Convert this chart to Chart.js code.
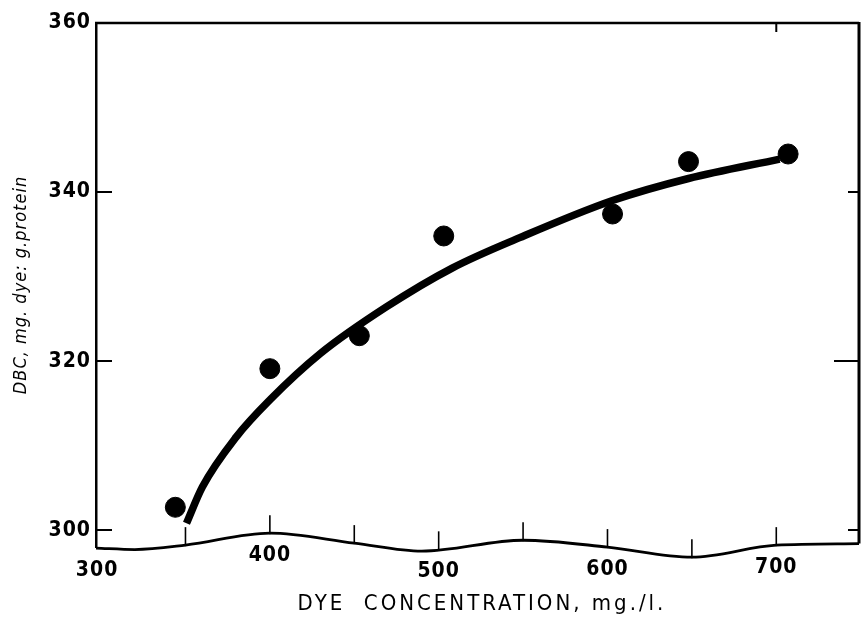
<!DOCTYPE html>
<html>
<head>
<meta charset="utf-8">
<script src="https://cdn.jsdelivr.net/npm/chart.js@4.4.1/dist/chart.umd.min.js"></script>
<style>
  html, body { margin: 0; padding: 0; background: #fff; }
  #wrap { width: 861px; height: 624px; }
</style>
</head>
<body>
<div id="wrap"><canvas id="c" width="861" height="624"></canvas></div>
<script>
// Measured dye binding capacity vs dye concentration
const concentration = [344, 400, 453, 503, 603, 648, 707];
const capacity = [302.7, 319.1, 323.0, 334.8, 337.4, 343.6, 344.5];

// Smooth fitted curve through the measurements
const fitX = [350.6, 360, 380, 400, 430, 469, 508, 548, 603, 648, 702];
const fitY = [300.8, 305.1, 311.0, 315.4, 320.9, 326.4, 331.0, 334.6, 339.0, 341.6, 343.9];

// Wavy broken baseline of the x axis
const breakX = [297, 320, 350, 400, 450, 490, 550, 600, 650, 700, 749];
const breakY = [297.87, 297.7, 298.22, 299.64, 298.46, 297.51, 298.8, 297.99, 296.8, 298.22, 298.4];

// Axis ticks
const yTicks = [300, 320, 340, 360];
const xLabels = [300, 400, 500, 600, 700];
const xMinor = [350, 400, 450, 500, 550, 600, 650, 700];

const tickFont = '"DejaVu Sans Condensed", "DejaVu Sans", sans-serif';

function toPoints(xs, ys) { return xs.map((x, i) => ({ x: x, y: ys[i] })); }

function baselineAt(v) {
  for (let i = 0; i < breakX.length - 1; i++) {
    if (v >= breakX[i] && v <= breakX[i + 1]) {
      const t = (v - breakX[i]) / (breakX[i + 1] - breakX[i]);
      return breakY[i] + t * (breakY[i + 1] - breakY[i]);
    }
  }
  return breakY[breakY.length - 1];
}

// Slightly spaced lettering for all axis text
const spacingPlugin = {
  id: 'spacing',
  beforeDraw(chart) { chart.ctx.letterSpacing = '1px'; },
  afterDraw(chart) { chart.ctx.letterSpacing = '0px'; }
};

// Frame, inward ticks, x labels and x title
const framePlugin = {
  id: 'frame',
  afterDatasetsDraw(chart) {
    const { ctx, chartArea: a, scales: { x, y } } = chart;
    ctx.save();
    ctx.strokeStyle = '#000';
    ctx.fillStyle = '#000';
    ctx.lineCap = 'butt';

    // top and right borders
    ctx.lineWidth = 2.5;
    ctx.beginPath();
    ctx.moveTo(a.left - 1, a.top);
    ctx.lineTo(a.right, a.top);
    ctx.stroke();
    ctx.lineWidth = 3;
    ctx.beginPath();
    ctx.moveTo(a.right, a.top - 1);
    ctx.lineTo(a.right, y.getPixelForValue(baselineAt(x.max)));
    ctx.stroke();

    // inward y ticks on both sides
    ctx.lineWidth = 2;
    yTicks.forEach(v => {
      if (v === y.max) return;
      const py = y.getPixelForValue(v);
      ctx.beginPath();
      ctx.moveTo(a.left, py); ctx.lineTo(a.left + 16, py);
      ctx.moveTo(a.right, py); ctx.lineTo(a.right - (v === 320 ? 25 : 11), py);
      ctx.stroke();
    });
    // small tick on the top border
    ctx.beginPath();
    const p700 = x.getPixelForValue(700);
    ctx.moveTo(p700, a.top); ctx.lineTo(p700, a.top + 9);
    ctx.stroke();

    // x ticks rising from the wavy baseline
    ctx.lineWidth = 1.6;
    xMinor.forEach(v => {
      const px = x.getPixelForValue(v);
      const py = y.getPixelForValue(baselineAt(v));
      ctx.beginPath();
      ctx.moveTo(px, py + 1); ctx.lineTo(px, py - 18);
      ctx.stroke();
    });

    // x tick labels follow the baseline
    ctx.letterSpacing = '1px';
    ctx.font = 'bold 21px ' + tickFont;
    ctx.textAlign = 'center';
    ctx.textBaseline = 'middle';
    xLabels.forEach(v => {
      const px = x.getPixelForValue(v) - (v === 300 ? 4 : 0);
      const py = y.getPixelForValue(baselineAt(v)) + 22;
      ctx.fillText(String(v), px, py);
    });

    // x axis title
    ctx.letterSpacing = '3px';
    ctx.font = '22px "DejaVu Sans Condensed", "DejaVu Sans", sans-serif';
    ctx.fillText('DYE  CONCENTRATION, mg./l.', 482, 604);
    ctx.restore();
  }
};

new Chart(document.getElementById('c'), {
  type: 'scatter',
  data: {
    datasets: [
      {
        label: 'DBC',
        data: toPoints(concentration, capacity),
        backgroundColor: '#000',
        borderColor: '#000',
        pointRadius: 10,
        pointHoverRadius: 10,
        showLine: false
      },
      {
        label: 'fit',
        type: 'line',
        data: toPoints(fitX, fitY),
        borderColor: '#000',
        borderWidth: 7.5,
        pointRadius: 0,
        cubicInterpolationMode: 'monotone',
        fill: false
      },
      {
        label: 'baseline',
        type: 'line',
        data: toPoints(breakX, breakY),
        borderColor: '#000',
        borderWidth: 2.8,
        pointRadius: 0,
        cubicInterpolationMode: 'monotone',
        fill: false,
        clip: false
      }
    ]
  },
  options: {
    responsive: false,
    animation: false,
    events: [],
    layout: { autoPadding: false, padding: { left: 0, top: 23, right: 2, bottom: 77 } },
    plugins: { legend: { display: false }, tooltip: { enabled: false } },
    scales: {
      x: {
        type: 'linear', min: 297, max: 749, display: false
      },
      y: {
        type: 'linear', min: 298, max: 360,
        afterBuildTicks: s => { s.ticks = yTicks.map(v => ({ value: v })); },
        afterFit: s => { s.width = 96; },
        grid: { drawOnChartArea: false, drawTicks: false },
        border: { display: true, color: '#000', width: 2.5 },
        ticks: {
          color: '#000', padding: 5,
          font: { family: tickFont, size: 21, weight: 'bold' }
        },
        title: {
          display: true,
          text: 'DBC, mg. dye: g.protein',
          color: '#000',
          padding: { top: 11, bottom: 0 },
          font: { family: '"DejaVu Sans Condensed", "DejaVu Sans", sans-serif', style: 'italic', size: 18 }
        }
      }
    }
  },
  plugins: [spacingPlugin, framePlugin]
});
</script>
</body>
</html>
